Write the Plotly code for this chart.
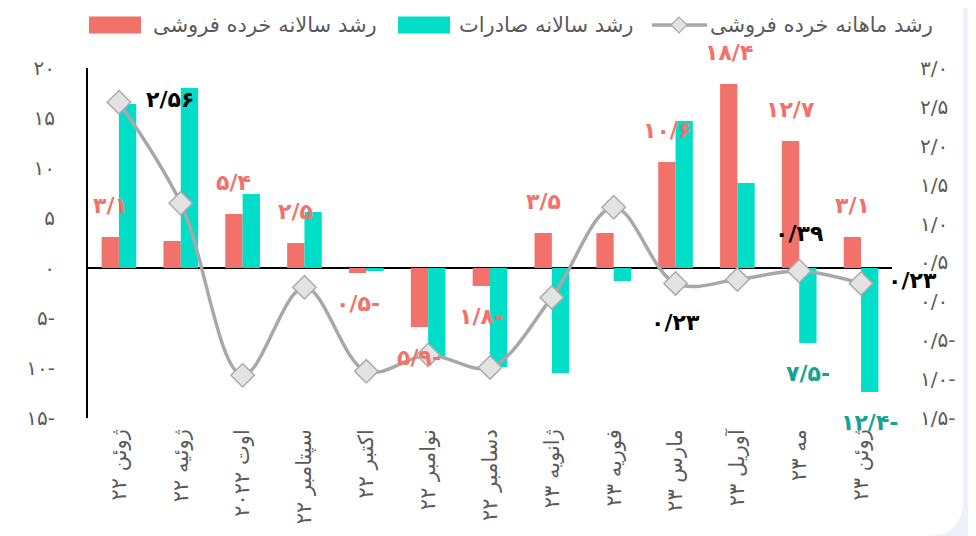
import plotly.graph_objects as go

# ---------------- data ----------------
categories = ["ژوئن ۲۲", "ژوئیه ۲۲", "اوت ۲۰۲۲", "سپتامبر ۲۲", "اکتبر ۲۲", "نوامبر ۲۲",
              "دسامبر ۲۲", "ژانویه ۲۳", "فوریه ۲۳", "مارس ۲۳", "آوریل ۲۳", "مه ۲۳", "ژوئن ۲۳"]
retail_yoy = [3.1, 2.7, 5.4, 2.5, -0.5, -5.9, -1.8, 3.5, 3.5, 10.6, 18.4, 12.7, 3.1]
export_yoy = [16.4, 18.0, 7.4, 5.6, -0.3, -9.0, -9.9, -10.5, -1.3, 14.7, 8.5, -7.5, -12.4]
retail_mom = [2.56, 1.26, -0.95, 0.18, -0.90, -0.69, -0.85, 0.05, 1.21, 0.23, 0.28, 0.39, 0.23]

retail_yoy_labelled = [0, 2, 3, 4, 5, 6, 7, 9, 10, 11, 12]
export_yoy_labelled = [11, 12]
retail_mom_labelled = {0: "right", 9: "below", 11: "above", 12: "right"}

left_ticks = [-15, -10, -5, 0, 5, 10, 15, 20]
right_ticks = [-1.5, -1.0, -0.5, 0.0, 0.5, 1.0, 1.5, 2.0, 2.5, 3.0]

name_retail_yoy = "رشد سالانه خرده فروشی"
name_export_yoy = "رشد سالانه صادرات"
name_retail_mom = "رشد ماهانه خرده فروشی"

# ---------------- helpers ----------------
FA = str.maketrans("0123456789", "۰۱۲۳۴۵۶۷۸۹")


def to_fa(v, decimals=None):
    s = f"{abs(v):.{decimals}f}" if decimals is not None else f"{abs(v):g}"
    s = s.replace(".", "/").translate(FA)
    return s + ("-" if v < 0 else "")


RED = "#F3716B"
TEAL = "#00DEC7"
TEAL_TXT = "#17A393"
GRAY_LINE = "#A8A8A8"
TXT = "#5A5A5A"
FONT = "DejaVu Sans"

OFF = 8                      # default page (body) margin around the plot div
W, H = 976 - OFF, 536 - OFF
ML, MR, MT, MB = 80, 84, 60, 118
PW, PH = W - ML - MR, H - MT - MB
BARGAP = 0.44


def px(xp):  # page pixel -> paper x
    return (xp - OFF - ML) / PW


def py(yp):  # page pixel -> paper y
    return (MT + PH - (yp - OFF)) / PH


fig = go.Figure()
fig.add_trace(go.Bar(x=categories, y=retail_yoy, name=name_retail_yoy,
                     marker=dict(color=RED, line=dict(width=0)), yaxis="y"))
fig.add_trace(go.Bar(x=categories, y=export_yoy, name=name_export_yoy,
                     marker=dict(color=TEAL, line=dict(width=0)), yaxis="y"))
fig.add_trace(go.Scatter(x=categories, y=retail_mom, name=name_retail_mom, yaxis="y2",
                         mode="lines+markers",
                         line=dict(color=GRAY_LINE, width=3.5, shape="spline", smoothing=1.0),
                         marker=dict(symbol="diamond", size=18, color="#E3E3E3",
                                     line=dict(color="#ABABAB", width=1.5))))

annotations = []
cat_px = PW / len(categories)
bar_off = cat_px * (1 - BARGAP) / 4
lab_font = dict(family=FONT, size=22)

for i in retail_yoy_labelled:
    v = retail_yoy[i]
    annotations.append(dict(x=categories[i], y=v, xref="x", yref="y", text="<b>" + to_fa(v) + "</b>",
                            showarrow=False, xshift=-bar_off, yshift=32 if v >= 0 else -30,
                            font=dict(color=RED, **lab_font)))
for i in export_yoy_labelled:
    v = export_yoy[i]
    annotations.append(dict(x=categories[i], y=v, xref="x", yref="y", text="<b>" + to_fa(v) + "</b>",
                            showarrow=False, xshift=bar_off, yshift=32 if v >= 0 else -30,
                            font=dict(color=TEAL_TXT, **lab_font)))
for i, pos in retail_mom_labelled.items():
    v = retail_mom[i]
    xs, ys = {"right": (51, 3), "below": (0, -39), "above": (0, 38)}[pos]
    annotations.append(dict(x=categories[i], y=v, xref="x", yref="y2", text="<b>" + to_fa(v) + "</b>",
                            showarrow=False, xshift=xs, yshift=ys,
                            font=dict(color="#000000", **lab_font)))

# custom legend (top)
leg_y = 25
leg_font = dict(family=FONT, size=21, color=TXT)
shapes = []
# white card with rounded bottom-right corner over the lavender page strip
r = 36
cx1 = 963
shapes.append(dict(type="path", xref="paper", yref="paper", layer="below",
                   path=(f"M {px(0)},{py(0)} L {px(cx1)},{py(0)} L {px(cx1)},{py(536 - r)} "
                         f"Q {px(cx1)},{py(536)} {px(cx1 - r)},{py(536)} L {px(0)},{py(536)} Z"),
                   fillcolor="white", line=dict(width=0)))
for (x0, x1, col, tx, name) in [(89, 141, RED, 151, name_retail_yoy),
                                (398, 450, TEAL, 457, name_export_yoy)]:
    shapes.append(dict(type="rect", xref="paper", yref="paper", x0=px(x0), x1=px(x1),
                       y0=py(leg_y - 8.5), y1=py(leg_y + 8.5), fillcolor=col, line=dict(width=0)))
    annotations.append(dict(x=px(tx), y=py(leg_y), xref="paper", yref="paper", text=name,
                            xanchor="left", yanchor="middle", showarrow=False, font=leg_font))
shapes.append(dict(type="line", xref="paper", yref="paper", x0=px(652), x1=px(707),
                   y0=py(leg_y), y1=py(leg_y), line=dict(color=GRAY_LINE, width=3.5)))
d = 8
shapes.append(dict(type="path", xref="paper", yref="paper",
                   path=(f"M {px(679 - d)},{py(leg_y)} L {px(679)},{py(leg_y - d)} "
                         f"L {px(679 + d)},{py(leg_y)} L {px(679)},{py(leg_y + d)} Z"),
                   fillcolor="#E3E3E3", line=dict(color="#ABABAB", width=1.2)))
annotations.append(dict(x=px(708), y=py(leg_y), xref="paper", yref="paper", text=name_retail_mom,
                        xanchor="left", yanchor="middle", showarrow=False, font=leg_font))

fig.update_layout(
    width=W, height=H,
    margin=dict(l=ML, r=MR, t=MT, b=MB, pad=0),
    barmode="group", bargap=BARGAP, bargroupgap=0,
    paper_bgcolor="#EEF0FC", plot_bgcolor="rgba(0,0,0,0)",
    showlegend=False,
    font=dict(family=FONT, color=TXT),
    xaxis=dict(type="category", tickangle=-90, showgrid=False, showline=False, ticks="",
               tickfont=dict(family=FONT, size=21, color=TXT), ticklabelstandoff=6,
               range=[-0.5, len(categories) - 0.5]),
    yaxis=dict(range=[-15, 20], tickvals=left_ticks, ticktext=[to_fa(v) for v in left_ticks],
               showgrid=False, zeroline=True, zerolinecolor="#000000", zerolinewidth=2,
               showline=True, linecolor="#000000", linewidth=2, ticks="",
               tickfont=dict(family=FONT, size=20, color=TXT), ticklabelstandoff=27),
    yaxis2=dict(range=[-1.5, 3.0], tickvals=right_ticks, ticktext=[to_fa(v, 1) for v in right_ticks],
                overlaying="y", side="right", showgrid=False, zeroline=False, showline=False,
                ticks="", tickfont=dict(family=FONT, size=20, color=TXT), ticklabelstandoff=27),
    shapes=shapes,
    annotations=annotations,
)

fig.write_html("out.html")
